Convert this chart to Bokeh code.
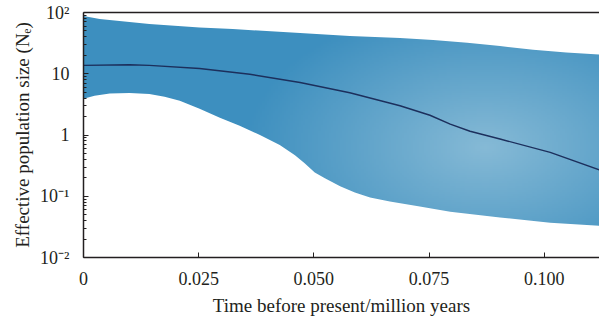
import numpy as np
from bokeh.plotting import figure
from bokeh.models import Range1d, FixedTicker, LinearAxis
from bokeh.embed import file_html
from bokeh.resources import INLINE

# ---- data ----
lower_time = [0.0, 0.0024, 0.0057, 0.0100, 0.0143, 0.0176, 0.0209, 0.0252, 0.0296,
              0.0339, 0.0383, 0.0426, 0.0459, 0.0480, 0.0502, 0.0524, 0.0557, 0.0589,
              0.0622, 0.0665, 0.0730, 0.0796, 0.0904, 0.1013, 0.112]
ne_lower = [3.92, 4.39, 4.74, 4.83, 4.65, 4.23, 3.63, 2.68, 1.91,
            1.41, 1.0, 0.684, 0.469, 0.346, 0.245, 0.196, 0.145, 0.115,
            0.095, 0.082, 0.068, 0.056, 0.045, 0.037, 0.033]

upper_time = [0.0, 0.0035, 0.0143, 0.0252, 0.0324, 0.0470, 0.0578, 0.0687, 0.0759,
              0.0833, 0.0904, 0.0976, 0.1048, 0.112]
ne_upper = [87.9, 78.5, 64.9, 56.8, 53.7, 46.1, 41.2, 38.2, 35.4,
            32.0, 28.4, 24.6, 22.2, 20.6]

med_time = [0.0, 0.010, 0.0143, 0.0252, 0.0361, 0.0470, 0.0578, 0.0687, 0.0752,
            0.0796, 0.0839, 0.0904, 0.1013, 0.112]
ne_median = [13.7, 14.0, 13.7, 12.2, 9.8, 7.2, 4.9, 3.0, 2.1,
             1.5, 1.15, 0.86, 0.52, 0.27]

x_ticks = [0.0, 0.025, 0.050, 0.075, 0.100]
x_tick_labels = ["0", "0.025", "0.050", "0.075", "0.100"]
y_ticks = [0.01, 0.1, 1, 10, 100]
y_tick_labels = ["10\u207b\u00b2", "10\u207b\u00b9", "1", "10", "10\u00b2"]

X0, X1 = 0.0, 0.112
Y0, Y1 = 0.01, 100

FONT = "Liberation Serif"
AX = "#231f20"

p = figure(width=599, height=325, output_backend="svg", toolbar_location=None,
           x_range=Range1d(X0, X1), y_range=Range1d(Y0, Y1), y_axis_type="log",
           min_border_left=83, min_border_right=0, min_border_top=12, min_border_bottom=68)
p.outline_line_color = None
p.grid.visible = False
p.background_fill_color = "white"
p.border_fill_color = "white"

# gradient background (style only), masked outside the band with white areas
nx, ny = 240, 120
gx = np.linspace(0, 1, nx)
gy = np.linspace(0, 1, ny)
GX, GY = np.meshgrid(gx, gy)
d = np.sqrt(((GX - 0.78) / 0.47) ** 2 + ((GY - 0.45) / 0.6) ** 2)
t = np.clip(d, 0, 1)
light = np.array([0x86, 0xba, 0xd6])
dark = np.array([0x3d, 0x8f, 0xbf])
rgb = light[None, None, :] * (1 - t[..., None]) + dark[None, None, :] * t[..., None]
img = np.zeros((ny, nx), dtype=np.uint32)
view = img.view(dtype=np.uint8).reshape((ny, nx, 4))
view[..., 0] = rgb[..., 0]
view[..., 1] = rgb[..., 1]
view[..., 2] = rgb[..., 2]
view[..., 3] = 255
p.image_rgba(image=[img], x=X0, y=Y0, dw=X1 - X0, dh=Y1 - Y0)

p.varea(x=upper_time, y1=ne_upper, y2=[Y1] * len(upper_time), fill_color="white")
p.varea(x=lower_time, y1=[Y0] * len(lower_time), y2=ne_lower, fill_color="white")

p.line(med_time, ne_median, line_color="#1c2f5c", line_width=1.4)

# axes
xa = p.xaxis[0]
xa.ticker = FixedTicker(ticks=x_ticks)
xa.major_label_overrides = {v: s for v, s in zip(x_ticks, x_tick_labels)}
xa.axis_label = "Time before present/million years"
ya = p.yaxis[0]
ya.ticker = FixedTicker(ticks=y_ticks,
                        minor_ticks=[m * 10.0 ** k for k in range(-2, 2) for m in range(2, 10)])
ya.major_label_overrides = {v: s for v, s in zip(y_ticks, y_tick_labels)}
ya.axis_label = "Effective population size (N\u2091)"

for a in (xa, ya):
    a.axis_line_color = AX
    a.axis_line_width = 1.5
    a.major_tick_line_color = AX
    a.major_tick_in = 5
    a.major_tick_out = 0
    a.minor_tick_line_color = AX
    a.minor_tick_in = 3
    a.minor_tick_out = 0
    a.major_label_text_font = FONT
    a.major_label_text_font_size = "18px"
    a.major_label_text_color = AX
    a.axis_label_text_font = FONT
    a.axis_label_text_font_size = "19px"
    a.axis_label_text_font_style = "normal"
    a.axis_label_text_color = AX
xa.minor_tick_line_color = None
xa.major_label_standoff = 14
xa.axis_label_standoff = 7
ya.major_label_standoff = 14
ya.axis_label_standoff = 4

top = LinearAxis(ticker=FixedTicker(ticks=[]), axis_line_color=AX, axis_line_width=1.5,
                 major_tick_line_color=None, minor_tick_line_color=None,
                 major_label_text_font_size="0px")
p.add_layout(top, "above")

open("out.html", "w").write(file_html(p, INLINE))
